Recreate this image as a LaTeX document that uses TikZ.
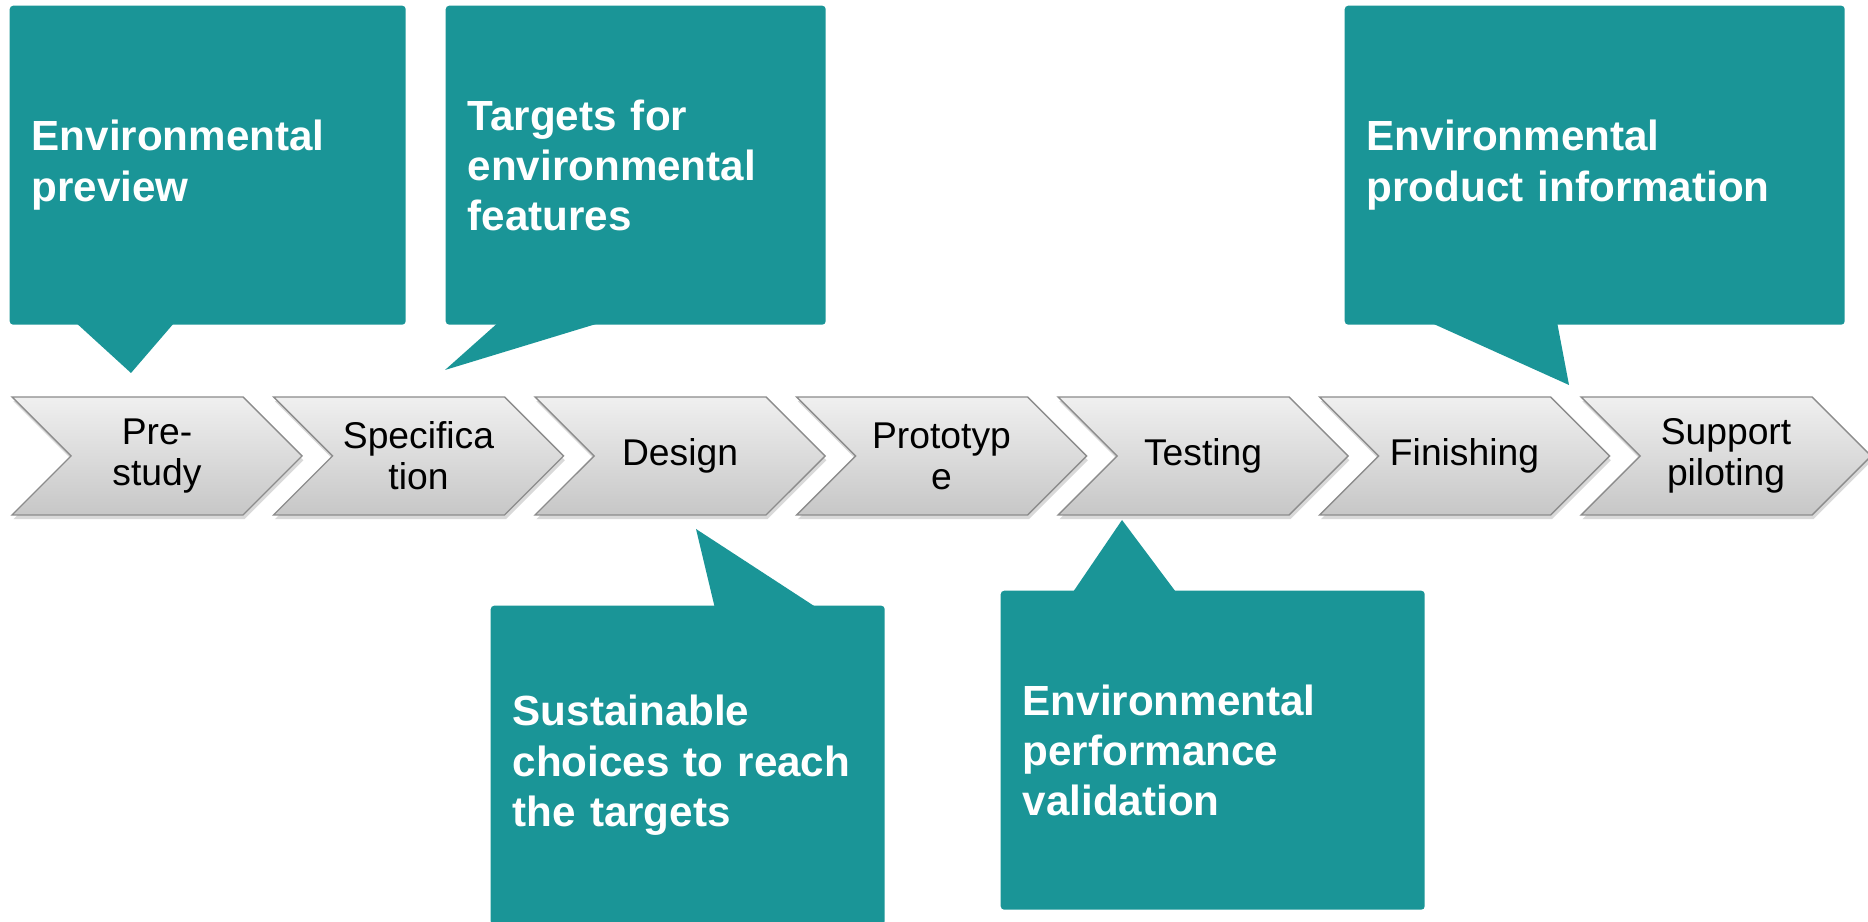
\documentclass[tikz,border=0pt]{standalone}
\usepackage{fontspec}
\setmainfont{Liberation Sans}
\usetikzlibrary{shapes.symbols, shadows}
\definecolor{calloutteal}{HTML}{1A9597}
\tikzset{
  stage/.style = {signal, signal to=east, signal from=west,
                  draw=black!45, top color=black!6, bottom color=black!22,
                  minimum width=2.9cm, minimum height=1.18cm, inner sep=0pt,
                  align=center, font=\fontsize{10.6}{11.6}\selectfont,
                  drop shadow={shadow xshift=0.4pt, shadow yshift=-1.2pt, opacity=0.3}},
  callout/.style = {shape=rectangle, rounded corners=1pt, fill=calloutteal,
                    anchor=north west, text=white, align=left,
                    font=\fontsize{12}{14.3}\selectfont\bfseries,
                    inner xsep=0.22cm, minimum height=3.19cm},
  pointer/.style = {fill=calloutteal}
}

\begin{document}
\begin{tikzpicture}[node distance=2.615cm]
    \useasboundingbox (0,0) rectangle (18.68,-9.22);
    % process stages
    \node (pre) [stage] at (1.57,-4.56) {Pre-\\study};
    \node (spec) [stage, right of=pre] {Specifica\\tion};
    \node (des) [stage, right of=spec] {Design};
    \node (proto) [stage, right of=des] {Prototyp\\e};
    \node (test) [stage, right of=proto] {Testing};
    \node (fin) [stage, right of=test] {Finishing};
    \node (sup) [stage, right of=fin] {Support\\piloting};

    % callouts above
    \node (preview) [callout, text width=3.52cm] at (0.09,-0.05) {Environmental\\preview};
    \coordinate (preview tip) at (1.31,-3.73);
    \fill [pointer] ([xshift=0.66cm, yshift=1pt]preview.south west) -- (preview tip) -- ([xshift=1.66cm, yshift=1pt]preview.south west) -- cycle;

    \node (targets) [callout, text width=3.36cm] at (4.45,-0.05) {Targets for\\environmental\\features};
    \coordinate (targets tip) at (4.45,-3.70);
    \fill [pointer] ([xshift=0.54cm, yshift=1pt]targets.south west) -- (targets tip) -- ([xshift=1.58cm, yshift=1pt]targets.south west) -- cycle;

    \node (info) [callout, text width=4.56cm] at (13.44,-0.05) {Environmental\\product information};
    \coordinate (info tip) at (15.69,-3.85);
    \fill [pointer] ([xshift=0.85cm, yshift=1pt]info.south west) -- (info tip) -- ([xshift=2.13cm, yshift=1pt]info.south west) -- cycle;

    % callouts below
    \node (choices) [callout, text width=3.50cm] at (4.90,-6.05) {Sustainable\\choices to reach\\the targets};
    \coordinate (choices tip) at (6.96,-5.29);
    \fill [pointer] ([xshift=2.25cm, yshift=-1pt]choices.north west) -- (choices tip) -- ([xshift=3.28cm, yshift=-1pt]choices.north west) -- cycle;

    \node (valid) [callout, text width=3.80cm] at (10.00,-5.90) {Environmental\\performance\\validation};
    \coordinate (valid tip) at (11.22,-5.20);
    \fill [pointer] ([xshift=0.72cm, yshift=-1pt]valid.north west) -- (valid tip) -- ([xshift=1.77cm, yshift=-1pt]valid.north west) -- cycle;
\end{tikzpicture}
\end{document}
